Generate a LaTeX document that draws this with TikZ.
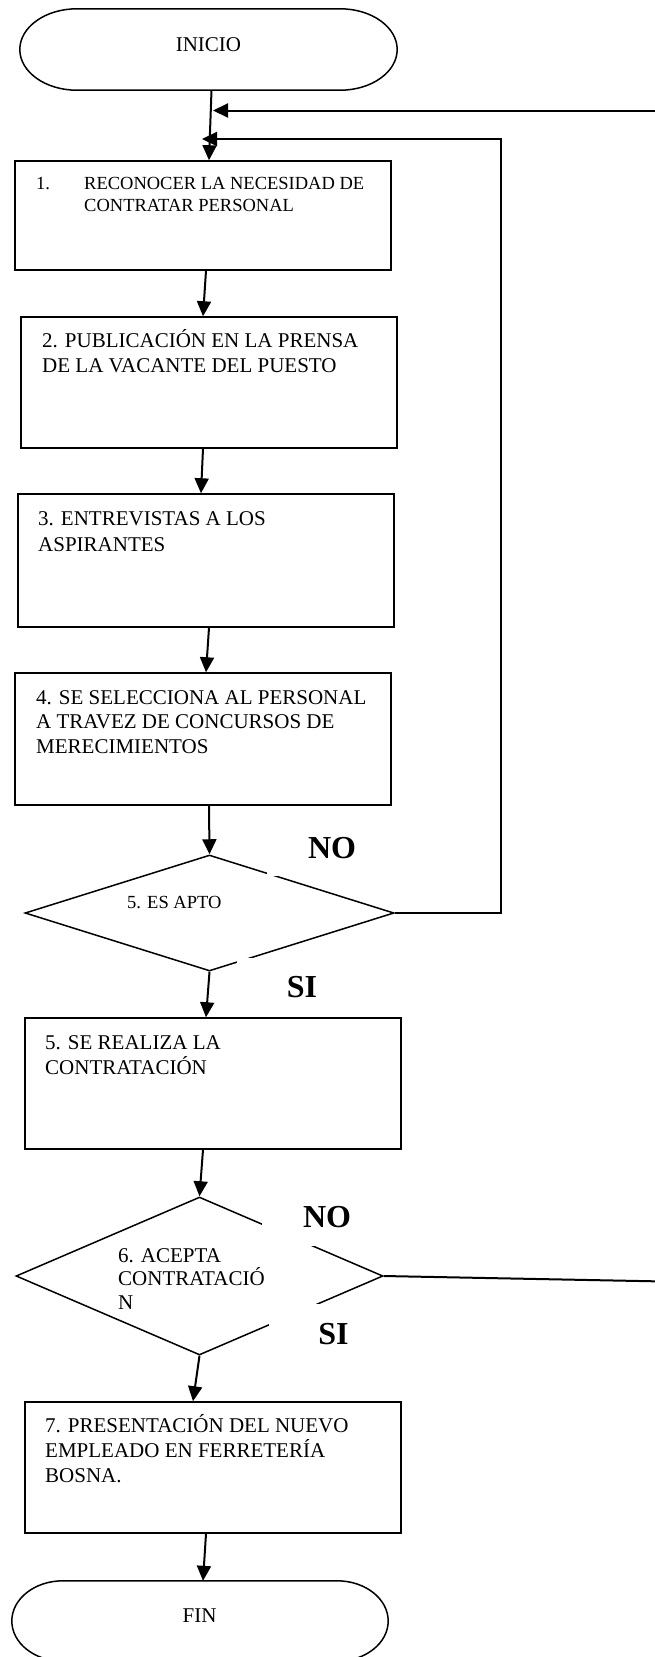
\documentclass[tikz,border=0pt]{standalone}
\usepackage{fontspec}
\setmainfont{Liberation Serif}
\usetikzlibrary{arrows.meta,shapes.geometric,calc}

% Outline of a start/end terminal around an (invisible) node:
% #1 node name, #2 horizontal radius of the rounded ends, #3 vertical radius
\newcommand{\termoutline}[3]{%
  \draw[termline] ($(#1.north west)+(#2,0)$) -- ($(#1.north east)+(-#2,0)$)
    .. controls +(0.5523*#2,0) and +(0,-0.5523*#3) .. (#1.east)
    .. controls +(0,0.5523*#3) and +(0.5523*#2,0) .. ($(#1.south east)+(-#2,0)$)
    -- ($(#1.south west)+(#2,0)$)
    .. controls +(-0.5523*#2,0) and +(0,0.5523*#3) .. (#1.west)
    .. controls +(0,-0.5523*#3) and +(-0.5523*#2,0) .. ($(#1.north west)+(#2,0)$)
    -- cycle;}

\begin{document}
\begin{tikzpicture}[x=1pt,y=-1pt,
  term/.style={inner sep=0pt},
  termline/.style={line width=1.5pt},
  termtext/.style={inner sep=0pt, anchor=base, font=\fontsize{21}{25}\selectfont},
  stepbox/.style={draw, line width=1.5pt, inner sep=0pt, minimum width=376pt},
  decision/.style={draw, diamond, line width=1.5pt, inner sep=0pt},
  txt/.style={inner sep=0pt, anchor=base west, font=\fontsize{21}{25}\selectfont},
  smalltxt/.style={inner sep=0pt, anchor=base west, font=\fontsize{18.5}{22}\selectfont},
  answer/.style={fill=white, inner sep=0pt, font=\fontsize{32}{36}\selectfont\bfseries},
  flow/.style={line width=2pt, -{Triangle[length=15pt,width=14pt]}},
  plain/.style={line width=2pt}]

\useasboundingbox (0,0) rectangle (655,1657);
\clip (0,0) rectangle (655,1657);

% start
\node[term, minimum width=377pt, minimum height=81pt] (inicio) at (208.5,49.5) {};
\termoutline{inicio}{57}{40.5}
\node[termtext] (inicio-t) at (208.5,51) {INICIO};

% step 1
\node[stepbox, minimum height=109pt] (b1) at (203,215.5) {};
\node[smalltxt] (t1) at (36,189) {\vtop{\hbox{\makebox[48pt][l]{1.}RECONOCER LA NECESIDAD DE}\hbox{\kern48pt CONTRATAR PERSONAL}}};

% step 2
\node[stepbox, minimum height=131pt] (b2) at (209,382.5) {};
\node[txt] (t2) at (42,347) {\vtop{\hbox{2. PUBLICACIÓN EN LA PRENSA}\hbox{DE LA VACANTE DEL PUESTO}}};

% step 3
\node[stepbox, minimum height=133pt] (b3) at (206,560.5) {};
\node[txt, font=\fontsize{21}{26}\selectfont] (t3) at (38,525) {\vtop{\hbox{3. ENTREVISTAS A LOS}\hbox{ASPIRANTES}}};

% step 4
\node[stepbox, minimum height=132pt] (b4) at (203,739) {};
\node[txt, font=\fontsize{21}{24.5}\selectfont] (t4) at (36,704) {\vtop{\hbox{4. SE SELECCIONA AL PERSONAL}\hbox{A TRAVEZ DE CONCURSOS DE}\hbox{MERECIMIENTOS}}};

% decision 5
\node[decision, minimum width=369pt, minimum height=116pt] (d5) at (209.5,913) {};
\node[smalltxt] (t5) at (127,908) {5. ES APTO};
\node[answer, minimum width=130pt, minimum height=56pt] (no1) at (332,848) {NO};
\node[answer, minimum width=130pt, minimum height=59pt] (si1) at (302,987.5) {SI};

% step 5
\node[stepbox, minimum height=131pt] (b5) at (213,1083.5) {};
\node[txt] (t5b) at (45,1049) {\vtop{\hbox{5. SE REALIZA LA}\hbox{CONTRATACIÓN}}};

% decision 6
\node[decision, minimum width=367pt, minimum height=158pt] (d6) at (199.5,1276) {};
\node[txt, font=\fontsize{21}{23.5}\selectfont] (t6) at (118,1262) {\vtop{\hbox{6. ACEPTA}\hbox{CONTRATACIÓ}\hbox{N}}};
\node[answer, minimum width=130pt, minimum height=57pt] (no2) at (327,1217.5) {NO};
\node[answer, minimum width=129pt, minimum height=60pt] (si2) at (333.5,1334) {SI};

% step 7
\node[stepbox, minimum height=131pt] (b7) at (213,1467.5) {};
\node[txt] (t7) at (45,1432) {\vtop{\hbox{7. PRESENTACIÓN DEL NUEVO}\hbox{EMPLEADO EN FERRETERÍA}\hbox{BOSNA.}}};

% end
\node[term, minimum width=376pt, minimum height=80pt] (fin) at (200,1621) {};
\termoutline{fin}{51}{40}
\node[termtext] (fin-t) at (199.5,1622) {FIN};

% main flow
\draw[flow] ($(inicio.south)+(3,0)$) -- ($(b1.north)+(6,0)$);
\draw[flow] ($(b1.south)+(3,0)$) -- ($(b2.north)+(-6,0)$);
\draw[flow] ($(b2.south)+(-6,0)$) -- ($(b3.north)+(-5,0)$);
\draw[flow] ($(b3.south)+(3,0)$) -- ($(b4.north)+(3,0)$);
\draw[flow] ($(b4.south)+(6,0)$) -- (d5.north);
\draw[flow] (d5.south) -- ($(b5.north)+(-7,0)$);
\draw[flow] ($(b5.south)+(-10,0)$) -- (d6.north);
\draw[flow] (d6.south) -- ($(b7.north)+(-20,0)$);
\draw[flow] ($(b7.south)+(-7,0)$) -- ($(fin.north)+(3,0)$);

% return paths
\coordinate (j1) at (213,110.5);
\coordinate (j2) at (202,139);
\coordinate (rtop) at (665,110.5);
\coordinate (rlow) at (665,1281.5);
\draw[flow] (rtop) -- (j1);
\draw[flow] (d5.east) -- ++(106,0) |- (j2);
\draw[plain] (d6.east) -- (rlow);

\end{tikzpicture}
\end{document}
